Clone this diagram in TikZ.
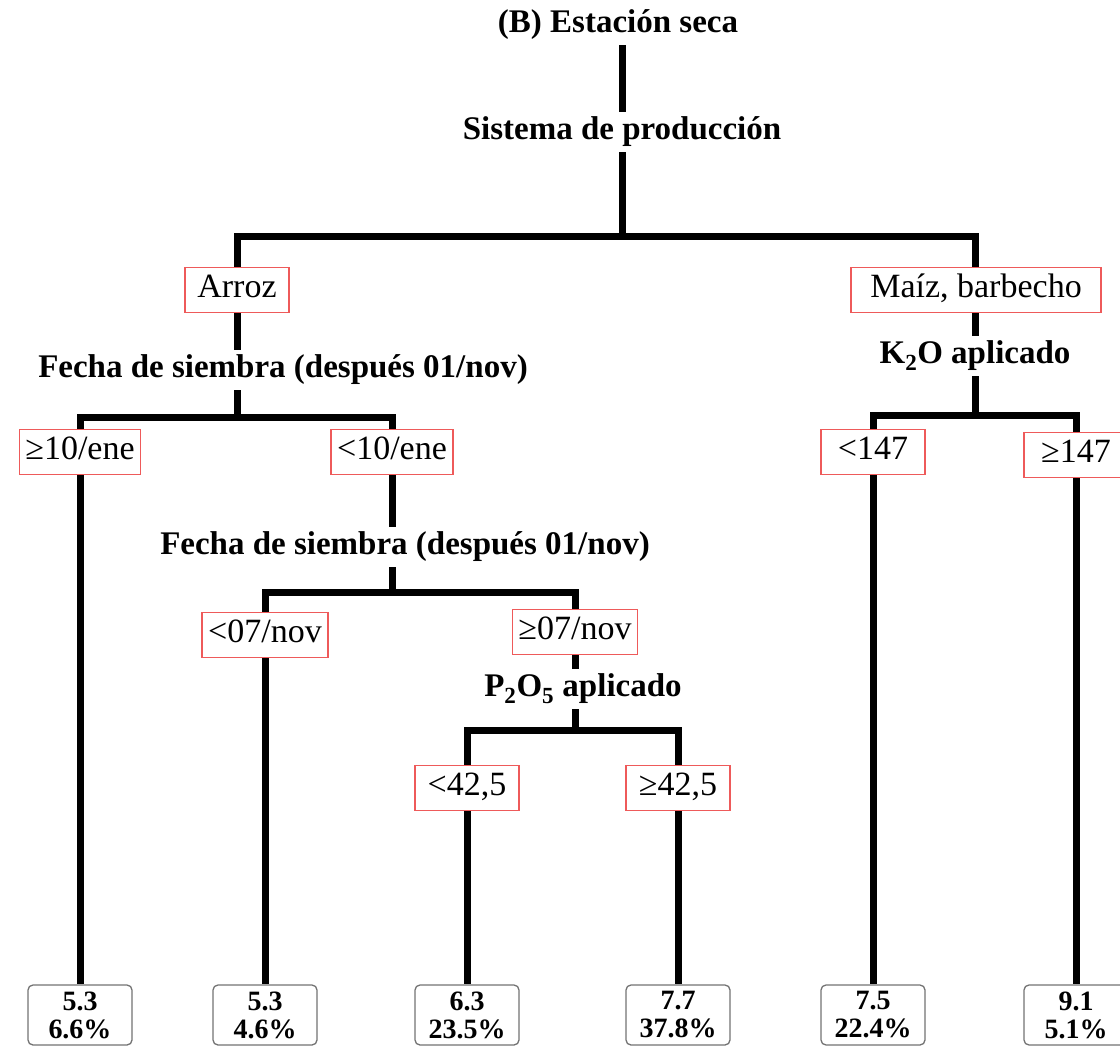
\documentclass[tikz,border=0pt]{standalone}
\usepackage{fontspec}
\setmainfont{Liberation Serif}
\usetikzlibrary{positioning}
\definecolor{cutred}{RGB}{238,90,90}

\begin{document}
\begin{tikzpicture}[x=1pt, y=-1pt]
    \tikzset{
        split/.style={font=\fontsize{33}{36}\selectfont\bfseries, inner sep=5pt},
        cut/.style={draw=cutred, line width=1.6pt, fill=white,
            font=\fontsize{34}{38}\selectfont, text height=23pt, text depth=8pt,
            inner xsep=6pt, inner ysep=7pt, minimum width=104pt},
        leaf/.style={draw=black!55, line width=1.3pt, rounded corners=5pt, fill=white,
            align=center, minimum width=104pt, minimum height=60pt, inner sep=0pt,
            font=\fontsize{28}{28}\selectfont\bfseries},
        branch/.style={line width=7pt}
    }
    \useasboundingbox (0,0) rectangle (1120,1051);

    % splits
    \node[split] (title) at (618,25) {(B) Estación seca};
    \node[split] (sis) at (622,132) {Sistema de producción};
    \node[split] (fecha1) at (283,370) {Fecha de siembra (después 01/nov)};
    \node[split] (fecha2) at (405,547) {Fecha de siembra (después 01/nov)};
    \node[split] (p2o5) at (583,689) {P\textsubscript{2}O\textsubscript{5} aplicado};
    \node[split] (k2o) at (975,356) {K\textsubscript{2}O aplicado};

    % cuts
    \node[cut] (arroz) at (237,290) {Arroz};
    \node[cut, minimum width=250pt] (maiz) at (976,290) {Maíz, barbecho};
    \node[cut] (ge10) at (80,452) {≥10/ene};
    \node[cut] (lt10) at (392,452) {<10/ene};
    \node[cut] (lt07) at (265,635) {<07/nov};
    \node[cut] (ge07) at (575,632) {≥07/nov};
    \node[cut] (lt425) at (467,788) {<42,5};
    \node[cut] (ge425) at (678,788) {≥42,5};
    \node[cut] (lt147) at (873,452) {<147};
    \node[cut] (ge147) at (1076,455) {≥147};

    % leaves
    \node[leaf] (l1) at (80,1015) {5.3\\6.6\%};
    \node[leaf] (l2) at (265,1015) {5.3\\4.6\%};
    \node[leaf] (l3) at (467,1015) {6.3\\23.5\%};
    \node[leaf] (l4) at (678,1015) {7.7\\37.8\%};
    \node[leaf] (l5) at (873,1015) {7.5\\22.4\%};
    \node[leaf] (l6) at (1076,1015) {9.1\\5.1\%};

    \coordinate (b1) at (622,237);
    \coordinate (b2) at (237,417);
    \coordinate (b3) at (392,592);
    \coordinate (b4) at (575,730);
    \coordinate (b5) at (975,415);

    \draw[branch] (title.south -| sis) -- (sis);
    \draw[branch] (sis) -- (b1);
    \draw[branch] (arroz.north) |- (b1) -| (maiz.north -| b5);
    \draw[branch] (arroz) -- (arroz |- fecha1.north);
    \draw[branch] (fecha1.south -| arroz) -- (b2);
    \draw[branch] (ge10.north) |- (b2) -| (lt10.north);
    \draw[branch] (lt10) -- (lt10 |- fecha2.north);
    \draw[branch] (fecha2.south -| lt10) -- (b3);
    \draw[branch] (lt07.north) |- (b3) -| (ge07.north);
    \draw[branch] (ge07) -- (ge07 |- p2o5.north);
    \draw[branch] (p2o5.south -| ge07) -- (b4);
    \draw[branch] (lt425.north) |- (b4) -| (ge425.north);
    \draw[branch] (maiz.south -| b5) -- (k2o);
    \draw[branch] (k2o) -- (b5);
    \draw[branch] (lt147.north) |- (b5) -| (ge147.north);

    \draw[branch] (ge10) -- (l1);
    \draw[branch] (lt07) -- (l2);
    \draw[branch] (lt425) -- (l3);
    \draw[branch] (ge425) -- (l4);
    \draw[branch] (lt147) -- (l5);
    \draw[branch] (ge147) -- (l6);
\end{tikzpicture}
\end{document}
